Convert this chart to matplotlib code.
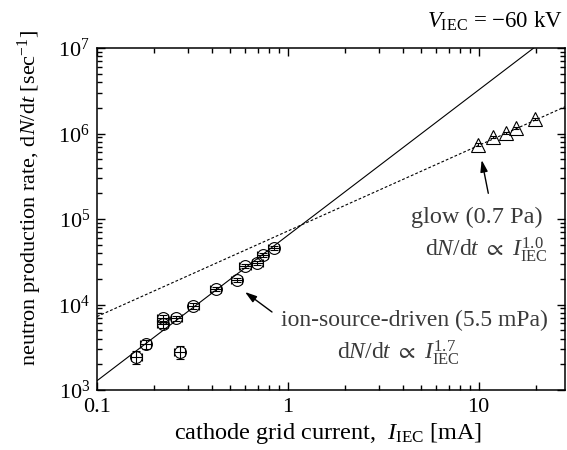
import numpy as np
import matplotlib
matplotlib.use('Agg')
import matplotlib.pyplot as plt
from matplotlib.ticker import FixedLocator, FixedFormatter, LogLocator, NullFormatter

plt.rcParams['font.family'] = ['Liberation Serif', 'DejaVu Serif']
plt.rcParams['mathtext.fontset'] = 'custom'
plt.rcParams['mathtext.rm'] = 'Liberation Serif'
plt.rcParams['mathtext.it'] = 'Liberation Serif:italic'
plt.rcParams['mathtext.fallback'] = 'stix'

# ion-source-driven mode (5.5 mPa), circles
ion_current = [0.161, 0.181, 0.221, 0.221, 0.261, 0.272, 0.32, 0.421, 0.541, 0.598, 0.694, 0.738, 0.843]
ion_rate = [2410, 3440, 6860, 5880, 6920, 2800, 9620, 15100, 19200, 28200, 30800, 37500, 46100]
ion_rate_err = [420, 450, 600, 500, 500, 480, 700, 900, 1000, 1500, 1700, 2000, 2500]
ion_current_err = [0.011, 0.012, 0.015, 0.015, 0.017, 0.018, 0.021, 0.028, 0.036, 0.04, 0.046, 0.049, 0.056]

# glow discharge mode (0.7 Pa), triangles
glow_current = [9.9, 11.9, 13.9, 15.8, 19.8]
glow_rate = [7.4e5, 9.1e5, 1.01e6, 1.16e6, 1.47e6]
glow_rate_err = [3e4, 3e4, 3e4, 4e4, 5e4]

# power-law fits dN/dt = A * I^n
ion_fit_A, ion_fit_n = 64300, 1.7
glow_fit_A, glow_fit_n = 72300, 1.0

W, H = 567, 450
fig = plt.figure(figsize=(W / 100, H / 100), dpi=100)
ax = fig.add_axes([97 / W, 60 / H, (565 - 97) / W, (390 - 48) / H])

xfit = np.logspace(-1, 1.6, 200)
ax.plot(xfit, ion_fit_A * xfit ** ion_fit_n, color='black', lw=0.8)
ax.plot(xfit, glow_fit_A * xfit ** glow_fit_n, color='black', lw=0.8, linestyle=(0, (2.5, 1.8)))

ax.errorbar(ion_current, ion_rate, yerr=ion_rate_err, xerr=ion_current_err, fmt='o', ms=8.5,
            mfc='none', mec='black', mew=0.8, ecolor='black', elinewidth=0.8, capsize=3, zorder=3)
ax.errorbar(glow_current, glow_rate, yerr=glow_rate_err, fmt='^', ms=10.5,
            mfc='none', mec='black', mew=0.8, ecolor='black', elinewidth=0.8, capsize=2, zorder=3)

ax.set_xscale('log')
ax.set_yscale('log')
ax.set_xlim(0.1, 28.4)
ax.set_ylim(1e3, 1e7)

ax.xaxis.set_major_locator(FixedLocator([0.1, 1, 10]))
ax.xaxis.set_major_formatter(FixedFormatter(['0.1', '1', '10']))
ax.xaxis.set_minor_locator(LogLocator(base=10, subs=np.arange(2, 10)))
ax.xaxis.set_minor_formatter(NullFormatter())
ax.yaxis.set_minor_locator(LogLocator(base=10, subs=np.arange(2, 10)))
ax.yaxis.set_minor_formatter(NullFormatter())

ax.tick_params(which='both', direction='in', top=True, right=True, labelsize=16, width=1)
ax.tick_params(which='major', length=6)
ax.tick_params(which='minor', length=3.5)
ax.tick_params(axis='x', pad=6)
ax.tick_params(axis='y', pad=5)
for s in ax.spines.values():
    s.set_linewidth(1.1)

txt = '#3a3a3a'
tf = fig.transFigure

def px(x, y):
    return x / W, 1 - y / H

fig.text(*px(328, 439), r'cathode grid current,  $I_{\rm IEC}$ [mA]', fontsize=17.5,
         ha='center', va='baseline')
fig.text(*px(30, 198), r'neutron production rate, d$N$/d$t$ [sec$^{-1}$]', fontsize=16,
         ha='center', va='center', rotation=90)
fig.text(*px(563, 28), r'$V_{\rm IEC}$ = $-$60 kV', fontsize=16.5, ha='right', va='baseline')

fig.text(*px(543, 222.7), 'glow (0.7 Pa)', fontsize=17.5, ha='right', va='baseline', color=txt)
fig.text(*px(548, 256), r'd$N$/d$t$ $\propto$ $I_{\rm IEC}^{1.0}$', fontsize=17,
         ha='right', va='baseline', color=txt)
fig.text(*px(548, 325.7), 'ion-source-driven (5.5 mPa)', fontsize=17, ha='right', va='baseline', color=txt)
fig.text(*px(398, 359), r'd$N$/d$t$ $\propto$ $I_{\rm IEC}^{1.7}$', fontsize=17,
         ha='center', va='baseline', color=txt)

arrow = dict(arrowstyle='-|>,head_length=0.7,head_width=0.22', color='black', lw=1.0,
             shrinkA=0, shrinkB=0)
ax.annotate('', xy=px(481.7, 160), xycoords=tf, xytext=px(488.3, 193.3), textcoords=tf,
            arrowprops=arrow)
ax.annotate('', xy=px(245, 292), xycoords=tf, xytext=px(272, 312), textcoords=tf,
            arrowprops=arrow)

fig.savefig('out.png', dpi=100)
